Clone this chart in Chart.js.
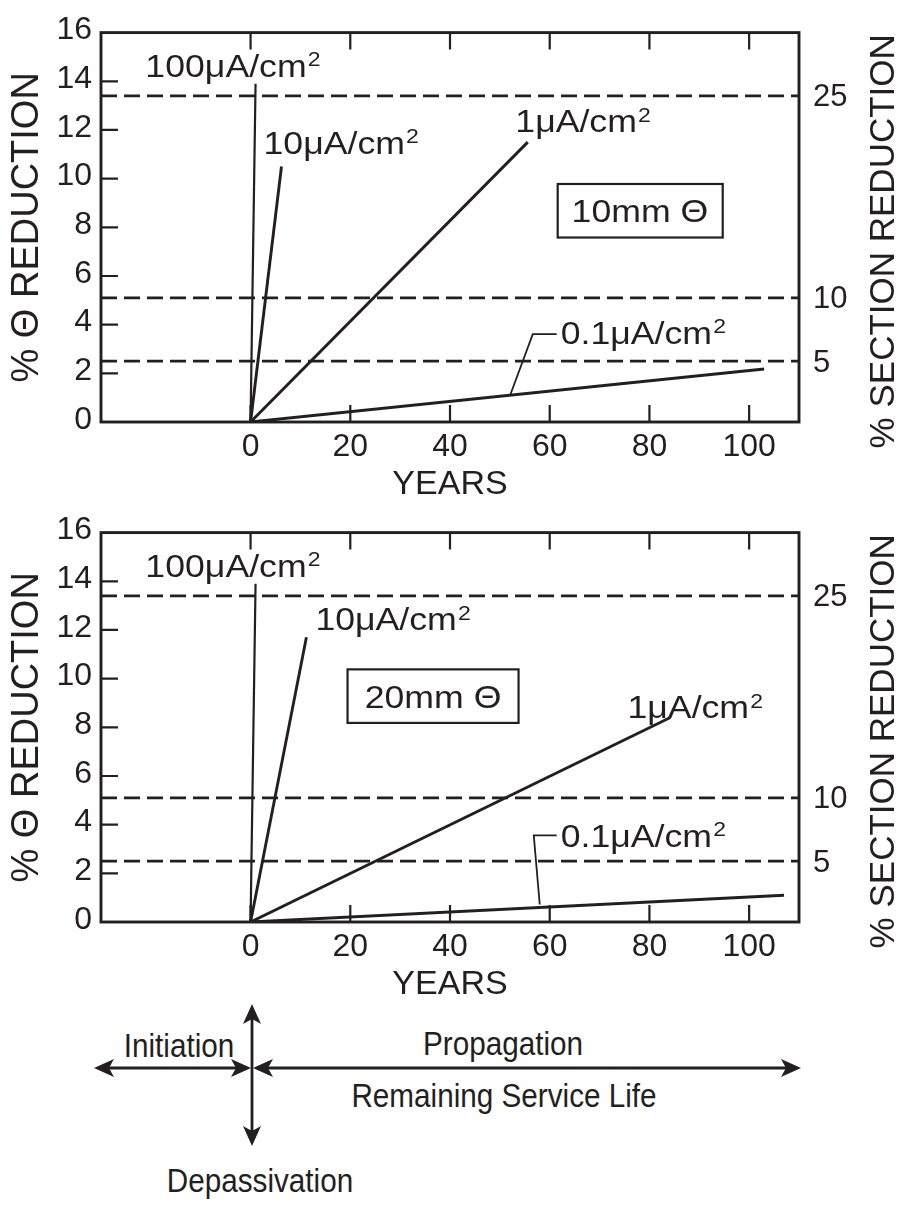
<!DOCTYPE html>
<html>
<head>
<meta charset="utf-8">
<script src="https://cdn.jsdelivr.net/npm/chart.js@4.4.1/dist/chart.umd.min.js"></script>
<style>
  html, body { margin: 0; padding: 0; background: #ffffff; }
  #wrap { position: relative; width: 901px; height: 1212px; overflow: hidden; background: #ffffff; }
  canvas { position: absolute; left: 0; }
  #c1 { top: 0; }
  #c2 { top: 500px; }
  svg { position: absolute; left: 0; top: 1000px; }
  svg text { font-family: "Liberation Sans", Arial, sans-serif; font-size: 33px; fill: #231f20; }
</style>
</head>
<body>
<div id="wrap">
  <canvas id="c1" width="901" height="500"></canvas>
  <canvas id="c2" width="901" height="500"></canvas>
  <svg width="901" height="212" viewBox="0 1000 901 212">
    <g stroke="#231f20" stroke-width="2.8" fill="none">
      <line x1="100" y1="1068" x2="246" y2="1068"/>
      <line x1="258" y1="1068" x2="795" y2="1068"/>
      <line x1="252" y1="1012" x2="252" y2="1138"/>
    </g>
    <g fill="#231f20" stroke="none">
      <polygon points="94,1068 114,1059 109,1068 114,1077"/>
      <polygon points="801,1068 781,1059 786,1068 781,1077"/>
      <polygon points="251,1068 231,1059 236,1068 231,1077"/>
      <polygon points="253,1068 273,1059 268,1068 273,1077"/>
      <polygon points="252,1004 243,1024 252,1019 261,1024"/>
      <polygon points="252,1146 243,1126 252,1131 261,1126"/>
    </g>
    <text transform="translate(179 1057) scale(0.9 1)" text-anchor="middle">Initiation</text>
    <text transform="translate(503 1055) scale(0.9 1)" text-anchor="middle">Propagation</text>
    <text transform="translate(504 1107) scale(0.9 1)" text-anchor="middle">Remaining Service Life</text>
    <text transform="translate(260 1192) scale(0.9 1)" text-anchor="middle">Depassivation</text>
  </svg>
</div>
<script>
// ---------- data ----------
const yearTicks = [0, 20, 40, 60, 80, 100];
const diamTicks = [0, 2, 4, 6, 8, 10, 12, 14, 16];
const sectionLabels = ['25', '10', '5'];          // % section reduction
const sectionLevels = [13.4, 5.1, 2.5];           // matching % diameter reduction (dashed lines)
const currentLabels = ['100μA/cm²', '10μA/cm²', '1μA/cm²', '0.1μA/cm²'];
// each line starts at (0 years, 0 %) and ends at these points
const bar10Years = [1.0, 6.2, 55.6, 103];
const bar10Reduction = [13.9, 10.5, 11.5, 2.18];
const bar20Years = [1.0, 11.2, 84.2, 107];
const bar20Reduction = [13.9, 11.7, 8.4, 1.1];

const INK = '#231f20';
const FONT = '"Liberation Sans", Arial, sans-serif';
const X_MIN = -30, X_MAX = 110;

function buildDatasets(years, reds) {
  const ds = [];
  years.forEach((yr, i) => {
    ds.push({
      label: currentLabels[i],
      data: [{ x: 0, y: 0 }, { x: yr, y: reds[i] }],
      borderColor: INK,
      borderWidth: i === 0 ? 2.2 : 2.9,
      pointRadius: 0,
      fill: false,
      tension: 0
    });
  });
  sectionLevels.forEach((lv, i) => {
    ds.push({
      label: sectionLabels[i] + '% section',
      data: [{ x: X_MIN, y: lv }, { x: X_MAX, y: lv }],
      borderColor: INK,
      borderWidth: 2.7,
      borderDash: [16, 7],
      pointRadius: 0,
      fill: false,
      tension: 0
    });
  });
  return ds;
}

function drawStretched(ctx, text, x, y, align, size, stretch) {
  ctx.save();
  ctx.translate(x, y);
  ctx.scale(stretch, 1);
  ctx.font = size + 'px ' + FONT;
  ctx.textAlign = align;
  ctx.textBaseline = 'alphabetic';
  const k = text.indexOf('²');
  if (k >= 0 && align === 'left') {
    const base = text.slice(0, k);
    ctx.fillText(base, 0, 0);
    const w = ctx.measureText(base).width;
    ctx.font = Math.round(size * 0.66) + 'px ' + FONT;
    ctx.fillText('2', w + 1, -size * 0.34);
  } else {
    ctx.fillText(text, 0, 0);
  }
  ctx.restore();
}

function makeNotes(notes) {
  return {
    id: 'notes',
    afterDraw(chart) {
      const ctx = chart.ctx, a = chart.chartArea;
      const sx = chart.scales.x, sy = chart.scales.y;
      const P = (x, y) => [sx.getPixelForValue(x), sy.getPixelForValue(y)];
      ctx.save();
      ctx.strokeStyle = INK;
      ctx.fillStyle = INK;
      // inward tick marks
      ctx.lineWidth = 2.2;
      ctx.beginPath();
      sx.ticks.forEach(t => {
        const p = sx.getPixelForValue(t.value);
        ctx.moveTo(p, a.top); ctx.lineTo(p, a.top + 17);
        ctx.moveTo(p, a.bottom); ctx.lineTo(p, a.bottom - 17);
      });
      sy.ticks.forEach(t => {
        if (t.value <= 0 || t.value >= 16) return;
        const p = sy.getPixelForValue(t.value);
        ctx.moveTo(a.left, p); ctx.lineTo(a.left + 17, p);
      });
      ctx.stroke();
      // frame
      ctx.lineWidth = 2.9;
      ctx.strokeRect(a.left, a.top, a.right - a.left, a.bottom - a.top);
      // leader line
      ctx.lineWidth = 1.8;
      ctx.beginPath();
      notes.leader.forEach((pt, i) => {
        const [px, py] = P(pt[0], pt[1]);
        if (i === 0) ctx.moveTo(px, py); else ctx.lineTo(px, py);
      });
      ctx.stroke();
      // box
      const [bx1, by1] = P(notes.box.x1, notes.box.y1);
      const [bx2, by2] = P(notes.box.x2, notes.box.y2);
      ctx.lineWidth = 2.2;
      ctx.strokeRect(bx1, by1, bx2 - bx1, by2 - by1);
      // texts
      notes.texts.forEach(n => {
        const [px, py] = P(n.x, n.y);
        drawStretched(ctx, n.t, px, py, n.align, 31, 1.15);
      });
      // right axis title
      ctx.save();
      ctx.translate(884, (a.top + a.bottom) / 2 + 14);
      ctx.rotate(-Math.PI / 2);
      ctx.font = '35px ' + FONT;
      ctx.textAlign = 'center';
      ctx.textBaseline = 'middle';
      ctx.fillText('% SECTION REDUCTION', 0, 0);
      ctx.restore();
      ctx.restore();
    }
  };
}

function makeChart(id, years, reds, notes) {
  return new Chart(document.getElementById(id), {
    type: 'line',
    data: { datasets: buildDatasets(years, reds) },
    options: {
      responsive: false,
      devicePixelRatio: 1,
      animation: false,
      layout: { padding: { top: 23, left: 0, right: 0, bottom: 0 } },
      plugins: { legend: { display: false }, tooltip: { enabled: false } },
      scales: {
        x: {
          type: 'linear',
          position: 'bottom',
          min: X_MIN, max: X_MAX,
          afterBuildTicks: s => { s.ticks = yearTicks.map(v => ({ value: v })); },
          afterFit: s => { s.height = 78; },
          grid: { display: false, drawTicks: false },
          border: { display: false },
          ticks: { color: INK, font: { family: FONT, size: 32 }, padding: 6, maxRotation: 0 },
          title: { display: true, text: 'YEARS', color: INK,
                   font: { family: FONT, size: 34, lineHeight: 0.9 }, padding: { top: 0, bottom: 0 } }
        },
        y: {
          type: 'linear',
          position: 'left',
          min: 0, max: 16,
          afterBuildTicks: s => { s.ticks = diamTicks.map(v => ({ value: v })); },
          afterFit: s => { s.width = 101; },
          grid: { display: false, drawTicks: false },
          border: { display: false },
          ticks: { color: INK, font: { family: FONT, size: 32 }, padding: 9, labelOffset: -2 },
          title: { display: true, text: '% Θ REDUCTION', color: INK,
                   font: { family: FONT, size: 38, lineHeight: 1.2 }, padding: { top: 5, bottom: 0 } }
        },
        y2: {
          type: 'linear',
          position: 'right',
          min: 0, max: 16,
          afterBuildTicks: s => { s.ticks = sectionLevels.map(v => ({ value: v })); },
          afterFit: s => { s.width = 102; },
          grid: { display: false, drawTicks: false },
          border: { display: false },
          ticks: { color: INK, font: { family: FONT, size: 31 }, padding: 14, labelOffset: 2,
                   callback: (v, i) => sectionLabels[i] }
        }
      }
    },
    plugins: [makeNotes(notes)]
  });
}

makeChart('c1', bar10Years, bar10Reduction, {
  texts: [
    { t: currentLabels[0], x: -21.1, y: 14.19, align: 'left' },
    { t: currentLabels[1], x: 2.6, y: 11.03, align: 'left' },
    { t: currentLabels[2], x: 53.1, y: 11.91, align: 'left' },
    { t: currentLabels[3], x: 62.2, y: 3.21, align: 'left' },
    { t: '10mm Θ', x: 78.1, y: 8.22, align: 'center' }
  ],
  box: { x1: 61.6, x2: 94.7, y1: 9.78, y2: 7.58 },
  leader: [[61.4, 3.61], [56.6, 3.61], [52.1, 1.12]]
});

makeChart('c2', bar20Years, bar20Reduction, {
  texts: [
    { t: currentLabels[0], x: -21.1, y: 14.19, align: 'left' },
    { t: currentLabels[1], x: 13.0, y: 11.99, align: 'left' },
    { t: currentLabels[2], x: 75.6, y: 8.38, align: 'left' },
    { t: currentLabels[3], x: 62.2, y: 3.09, align: 'left' },
    { t: '20mm Θ', x: 36.6, y: 8.78, align: 'center' }
  ],
  box: { x1: 19.45, x2: 53.75, y1: 10.38, y2: 8.18 },
  leader: [[61.4, 3.56], [56.8, 3.56], [58.0, 0.72]]
});
</script>
</body>
</html>
